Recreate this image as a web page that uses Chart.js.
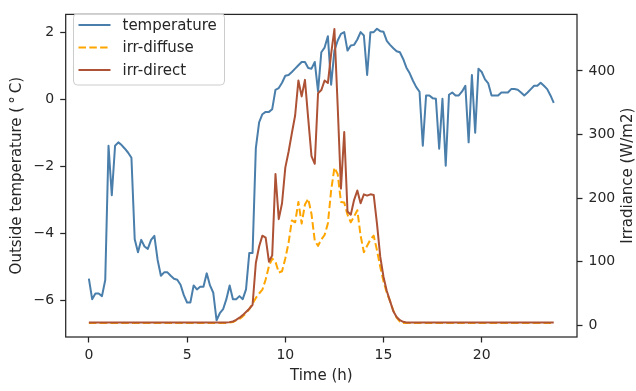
<!DOCTYPE html>
<html>
<head>
<meta charset="utf-8">
<script src="https://cdn.jsdelivr.net/npm/chart.js@4"></script>
<style>
html,body{margin:0;padding:0;background:#fff;}
canvas{display:block;}
</style>
</head>
<body>
<canvas id="c" width="636" height="391"></canvas>
<script>
// ---- data ----
const minutes = [
0,10,20,30,40,50,60,70,80,90,
100,110,120,130,140,150,160,170,180,190,
200,210,220,230,240,250,260,270,280,290,
300,310,320,330,340,350,360,370,380,390,
400,410,420,430,440,450,460,470,480,490,
500,510,520,530,540,550,560,570,580,590,
600,610,620,630,640,650,660,670,680,690,
700,710,720,730,740,750,760,770,780,790,
800,810,820,830,840,850,860,870,880,890,
900,910,920,930,940,950,960,970,980,990,
1000,1010,1020,1030,1040,1050,1060,1070,1080,1090,
1100,1110,1120,1130,1140,1150,1160,1170,1180,1190,
1200,1210,1220,1230,1240,1250,1260,1270,1280,1290,
1300,1310,1320,1330,1340,1350,1360,1370,1380,1390,
1400,1410,1420];

const temperature = [
-5.36,-5.97,-5.8,-5.8,-5.88,-5.4,-1.39,-2.87,-1.39,-1.29,
-1.37,-1.48,-1.6,-1.75,-4.18,-4.57,-4.2,-4.4,-4.47,-4.2,
-4.08,-4.8,-5.27,-5.17,-5.17,-5.27,-5.36,-5.39,-5.54,-5.85,
-6.07,-6.07,-5.56,-5.68,-5.6,-5.6,-5.2,-5.56,-5.78,-6.6,
-6.39,-6.27,-5.97,-5.56,-5.97,-5.97,-5.88,-5.97,-5.68,-4.59,
-4.59,-1.46,-0.69,-0.45,-0.38,-0.38,-0.3,0.28,0.33,0.49,
0.7,0.72,0.81,0.91,1.01,1.11,1.11,0.93,0.91,1.11,
0.23,1.4,1.54,1.88,0.43,1.45,1.75,1.95,2.0,1.45,
1.6,1.62,1.78,2.0,1.9,0.72,2.0,2.0,2.1,2.03,
2.01,1.74,1.62,1.52,1.43,1.4,1.2,0.94,0.77,0.55,
0.36,0.22,-1.39,0.11,0.11,0.03,0.01,-1.48,0.01,-1.99,
0.13,0.2,0.11,0.11,0.23,0.4,-1.29,0.72,-1.0,0.91,
0.81,0.59,0.47,0.11,0.11,0.11,0.2,0.2,0.2,0.3,
0.3,0.28,0.2,0.11,0.2,0.3,0.4,0.4,0.49,0.4,
0.3,0.11,-0.11];

const irrDiffuse = [
3.5,3.5,3.5,3.5,3.5,3.5,3.5,3.5,3.5,3.5,
3.5,3.5,3.5,3.5,3.5,3.5,3.5,3.5,3.5,3.5,
3.5,3.5,3.5,3.5,3.5,3.5,3.5,3.5,3.5,3.5,
3.5,3.5,3.5,3.5,3.5,3.5,3.5,3.5,3.5,3.5,
3.5,3.5,3.5,4.5,5,7.7,10,14,19,25.6,
34,43,50,56,72,93,105,100,83,85,
105,130,165,162,194,160,190,199,175,133,
125,135,142,160,212,248,238,194,193,174,
162,171,181,141,115,125,135,141,118,92,
69,51,38,23,12,6,3.5,3.5,3.5,3.5,
3.5,3.5,3.5,3.5,3.5,3.5,3.5,3.5,3.5,3.5,
3.5,3.5,3.5,3.5,3.5,3.5,3.5,3.5,3.5,3.5,
3.5,3.5,3.5,3.5,3.5,3.5,3.5,3.5,3.5,3.5,
3.5,3.5,3.5,3.5,3.5,3.5,3.5,3.5,3.5,3.5,
3.5,3.5,3.5];

const irrDirect = [
4.5,4.5,4.5,4.5,4.5,4.5,4.5,4.5,4.5,4.5,
4.5,4.5,4.5,4.5,4.5,4.5,4.5,4.5,4.5,4.5,
4.5,4.5,4.5,4.5,4.5,4.5,4.5,4.5,4.5,4.5,
4.5,4.5,4.5,4.5,4.5,4.5,4.5,4.5,4.5,4.5,
4.5,4.5,4.5,5,6,8.5,12,16,21,26,
32,98,124,141,138,100,110,238,167,192,
248,273,302,330,385,360,386,325,266,254,
365,370,385,381,427,466,345,215,304,179,
174,197,212,192,206,204,206,205,160,108,
76,54,38,22,13,8,5.5,4.5,4.5,4.5,
4.5,4.5,4.5,4.5,4.5,4.5,4.5,4.5,4.5,4.5,
4.5,4.5,4.5,4.5,4.5,4.5,4.5,4.5,4.5,4.5,
4.5,4.5,4.5,4.5,4.5,4.5,4.5,4.5,4.5,4.5,
4.5,4.5,4.5,4.5,4.5,4.5,4.5,4.5,4.5,4.5,
4.5,4.5,4.5];

const xTicks = [0, 5, 10, 15, 20];
const tempTicks = [-6, -4, -2, 0, 2];
const irrTicks = [0, 100, 200, 300, 400];
const seriesLabels = ['temperature', 'irr-diffuse', 'irr-direct'];
const xTitle = 'Time (h)';
const yTitle = 'Outside temperature (\u2009\u00B0\u2009C)';
const y1Title = 'Irradiance (W/m2)';

// ---- styling ----
const INK = '#262626';
const FONT = '"DejaVu Sans", sans-serif';
const COLORS = ['#4a7eab', '#ffa500', '#ad5235'];

const pts = arr => minutes.map((m, i) => ({ x: m / 60, y: arr[i] }));
const fmt = v => (v < 0 ? '\u2212' + Math.abs(v) : String(v));
const setTicks = list => scale => { scale.ticks = list.map(v => ({ value: v })); };

const decor = {
  id: 'decor',
  afterDatasetsDraw(chart) {
    const { ctx, chartArea: a } = chart;
    ctx.save();
    // frame (all four spines)
    ctx.strokeStyle = INK;
    ctx.lineWidth = 1.25;
    ctx.strokeRect(a.left, a.top, a.right - a.left, a.bottom - a.top);

    // legend
    const lx = 73.5, ly = 13.5, lw = 151, lh = 71.5, r = 4;
    ctx.beginPath();
    ctx.moveTo(lx + r, ly);
    ctx.arcTo(lx + lw, ly, lx + lw, ly + lh, r);
    ctx.arcTo(lx + lw, ly + lh, lx, ly + lh, r);
    ctx.arcTo(lx, ly + lh, lx, ly, r);
    ctx.arcTo(lx, ly, lx + lw, ly, r);
    ctx.closePath();
    ctx.fillStyle = 'rgba(255,255,255,0.8)';
    ctx.fill();
    ctx.strokeStyle = '#cccccc';
    ctx.lineWidth = 1;
    ctx.stroke();

    const rows = [25, 47.5, 70];
    ctx.font = '15px ' + FONT;
    ctx.textBaseline = 'middle';
    ctx.textAlign = 'left';
    chart.data.datasets.forEach((ds, i) => {
      const y = rows[i];
      ctx.beginPath();
      ctx.strokeStyle = ds.borderColor;
      ctx.lineWidth = ds.borderWidth;
      ctx.setLineDash(ds.borderDash || []);
      ctx.moveTo(78.5, y);
      ctx.lineTo(110.5, y);
      ctx.stroke();
      ctx.setLineDash([]);
      ctx.fillStyle = INK;
      ctx.fillText(ds.label, 122.5, y + 1);
    });

    // axis titles
    ctx.fillStyle = INK;
    ctx.font = '15px ' + FONT;
    ctx.textAlign = 'center';
    ctx.textBaseline = 'middle';
    ctx.fillText(xTitle, (a.left + a.right) / 2, 376);
    const cy = (a.top + a.bottom) / 2;
    ctx.save();
    ctx.translate(17, cy);
    ctx.rotate(-Math.PI / 2);
    ctx.fillText(yTitle, 0, 0);
    ctx.restore();
    ctx.save();
    ctx.translate(628.5, cy);
    ctx.rotate(-Math.PI / 2);
    ctx.fillText(y1Title, 0, 0);
    ctx.restore();
    ctx.restore();
  }
};

const tickFont = { family: FONT, size: 14 };
const gridOpts = { display: true, drawOnChartArea: false, drawTicks: true, tickLength: 5.5, tickColor: INK, tickWidth: 1.25 };

new Chart(document.getElementById('c'), {
  type: 'line',
  data: {
    datasets: [
      { label: seriesLabels[0], data: pts(temperature), yAxisID: 'y', borderColor: COLORS[0], borderWidth: 2, order: 3 },
      { label: seriesLabels[1], data: pts(irrDiffuse), yAxisID: 'y1', borderColor: COLORS[1], borderWidth: 2, borderDash: [7.5, 3.3], order: 2 },
      { label: seriesLabels[2], data: pts(irrDirect), yAxisID: 'y1', borderColor: COLORS[2], borderWidth: 2, order: 1 }
    ]
  },
  options: {
    responsive: false,
    animation: false,
    devicePixelRatio: 1,
    layout: { padding: { top: 6, left: 0, right: 0, bottom: 0 } },
    elements: { point: { radius: 0 }, line: { tension: 0, fill: false, borderCapStyle: 'butt', borderJoinStyle: 'round' } },
    plugins: { legend: { display: false }, tooltip: { enabled: false } },
    scales: {
      x: {
        type: 'linear', min: -1.18, max: 24.85,
        afterBuildTicks: setTicks(xTicks),
        afterFit: s => { s.height = 54; },
        grid: gridOpts, border: { display: false },
        ticks: { font: tickFont, color: INK, padding: 4, maxRotation: 0, autoSkip: false, callback: fmt }
      },
      y: {
        position: 'left', min: -7.1, max: 2.53,
        afterBuildTicks: setTicks(tempTicks),
        afterFit: s => { s.width = 65.7; },
        grid: gridOpts, border: { display: false },
        ticks: { font: tickFont, color: INK, padding: 6, callback: fmt }
      },
      y1: {
        position: 'right', min: -18.4, max: 489,
        afterBuildTicks: setTicks(irrTicks),
        afterFit: s => { s.width = 59; },
        grid: gridOpts, border: { display: false },
        ticks: { font: tickFont, color: INK, padding: 6, callback: fmt }
      }
    }
  },
  plugins: [decor]
});
</script>
</body>
</html>
